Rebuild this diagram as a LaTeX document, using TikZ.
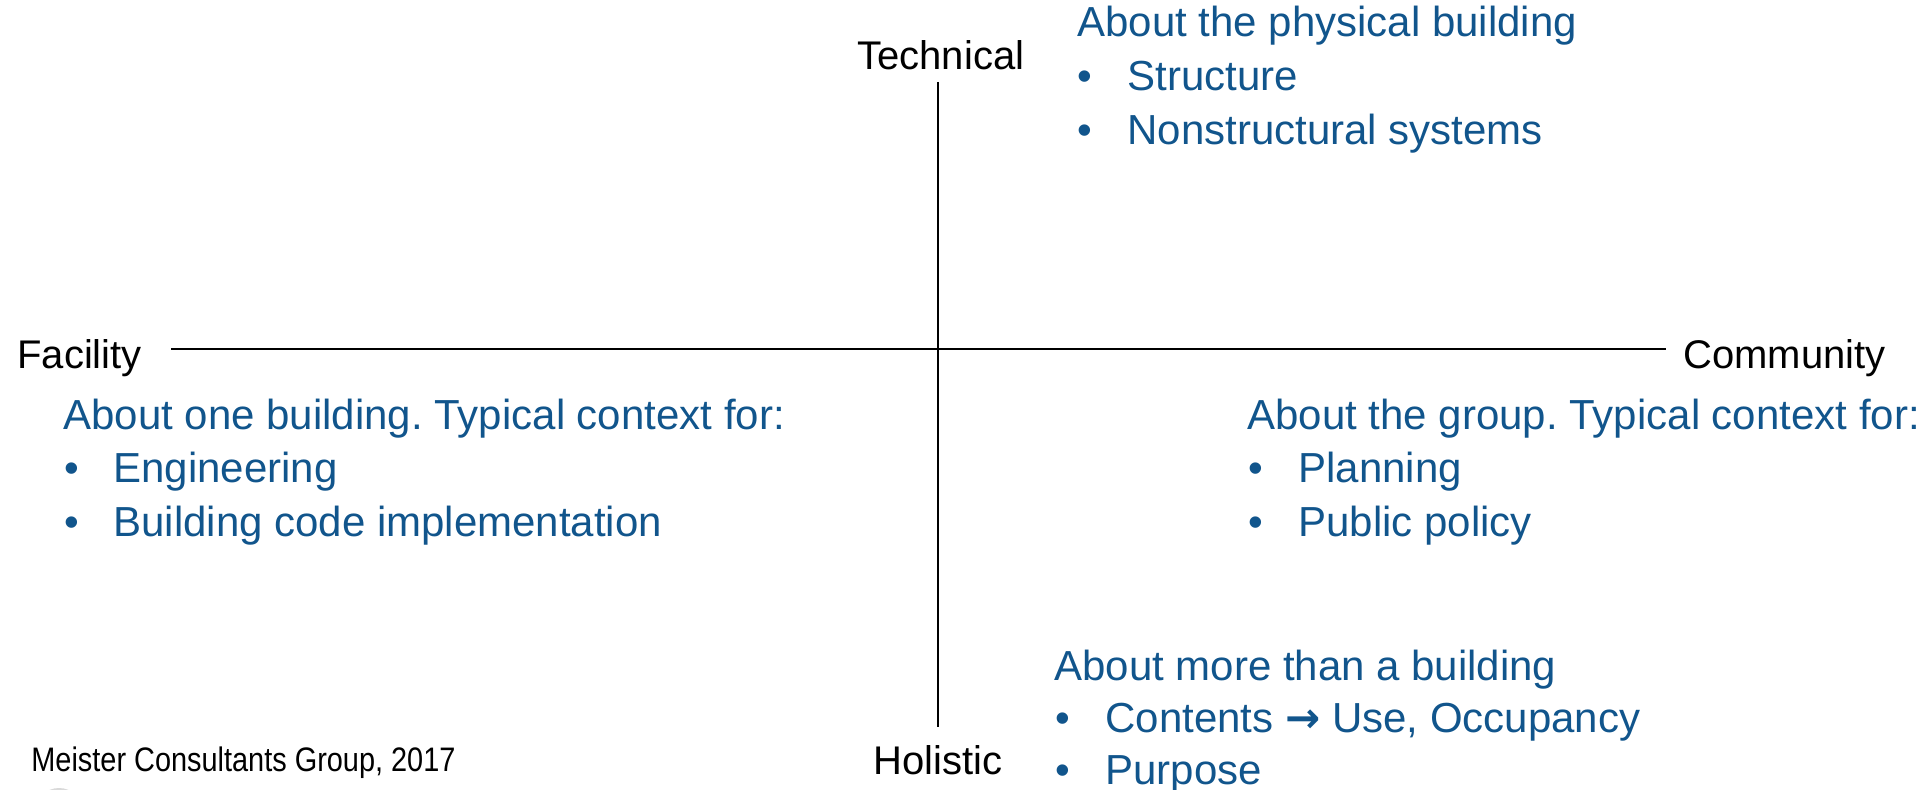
\documentclass[tikz,border=0pt]{standalone}
\usepackage{fontspec}
\setmainfont{Liberation Sans}
\newfontfamily\narrowfont[FakeStretch=0.85]{Liberation Sans}
\newfontfamily\arrowfont{DejaVu Sans}
\definecolor{txtblue}{RGB}{17,85,140}
\frenchspacing
\begin{document}
\begin{tikzpicture}[x=0.5pt,y=-0.5pt,
  axislabel/.style={font=\fontsize{20}{24}\selectfont, text=black, inner sep=0pt, anchor=base west},
  bluetext/.style={font=\fontsize{21}{25}\selectfont, text=txtblue, inner sep=0pt, anchor=base west},
  credit/.style={font=\narrowfont\fontsize{17}{20}\selectfont, text=black, inner sep=0pt, anchor=base west},
  axisline/.style={draw=black, line width=0.8pt}]
\useasboundingbox (0,0) rectangle (1927,790);
% axes
\coordinate (vtop) at (938,82);
\coordinate (vbot) at (938,727);
\coordinate (hleft) at (171,349);
\coordinate (hright) at (1666,349);
\draw[axisline] (vtop) -- (vbot);
\draw[axisline] (hleft) -- (hright);
% axis labels
\node[axislabel] (tech) at (857,70) {Technical};
\node[axislabel] (hol) at (873,774) {Holistic};
\node[axislabel] (fac) at (17,369) {Facility};
\node[axislabel] (com) at (1683,369) {Community};
% top right
\node[bluetext] (t0) at (1077,37) {About the physical building};
\node[bluetext] (t1b) at (1077,91) {•};
\node[bluetext] (t1) at (1127,91) {Structure};
\node[bluetext] (t2b) at (1077,145) {•};
\node[bluetext] (t2) at (1127,145) {Nonstructural systems};
% left
\node[bluetext] (l0) at (63,430) {About one building. Typical context for:};
\node[bluetext] (l1b) at (64,483) {•};
\node[bluetext] (l1) at (113,483) {Engineering};
\node[bluetext] (l2b) at (64,537) {•};
\node[bluetext] (l2) at (113,537) {Building code implementation};
% right
\node[bluetext] (r0) at (1247,430) {About the group. Typical context for:};
\node[bluetext] (r1b) at (1248,483) {•};
\node[bluetext] (r1) at (1298,483) {Planning};
\node[bluetext] (r2b) at (1248,537) {•};
\node[bluetext] (r2) at (1298,537) {Public policy};
% bottom right
\node[bluetext] (b0) at (1054,680) {About more than a building};
\node[bluetext] (b1b) at (1055,732) {•};
\node[bluetext] (b1) at (1105,732) {Contents {\arrowfont\bfseries →} Use, Occupancy};
\node[bluetext] (b2b) at (1055,784) {•};
\node[bluetext] (b2) at (1105,784) {Purpose};
% credit
\node[credit] (cred) at (31,771) {Meister Consultants Group, 2017};
% faint logo fragments at the bottom edge
\fill[gray!30] (59,812) circle (24);
\fill[red!12] (722,808) circle (18);
\end{tikzpicture}
\end{document}
